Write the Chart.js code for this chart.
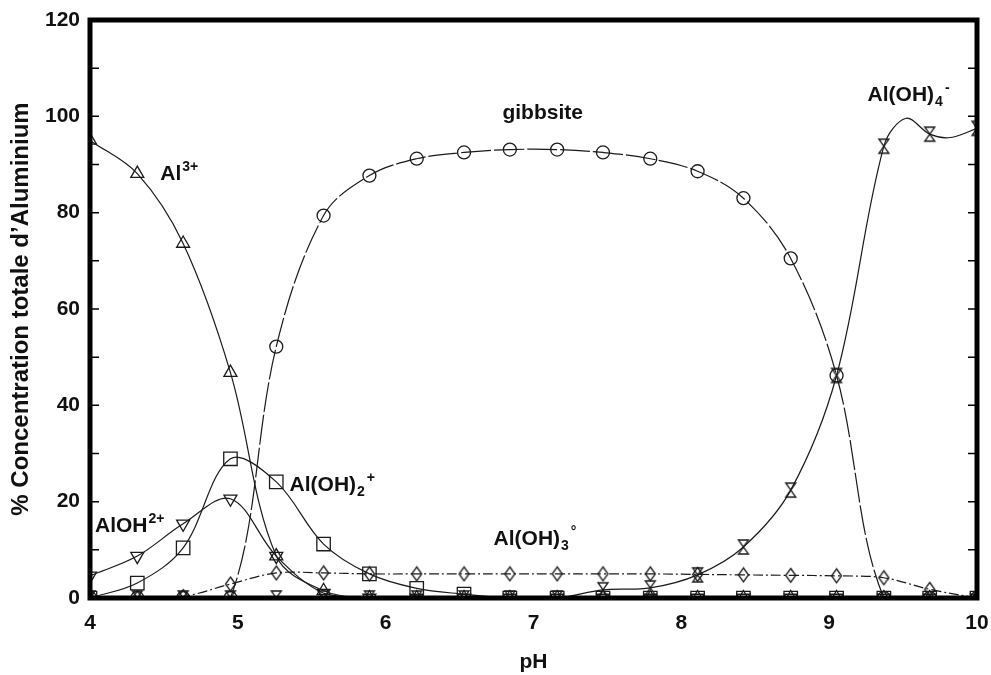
<!DOCTYPE html>
<html>
<head>
<meta charset="utf-8">
<script src="https://cdn.jsdelivr.net/npm/chart.js@4.4.1/dist/chart.umd.min.js"></script>
<style>
  html, body { margin: 0; padding: 0; background: #fff; }
  #wrap { width: 991px; height: 675px; }
</style>
</head>
<body>
<div id="wrap"><canvas id="spec" width="991" height="675"></canvas></div>
<script>
/* ---------------------------------
   DATA
--------------------------------- */
const pH = [4.00, 4.32, 4.63, 4.95, 5.26, 5.58, 5.89, 6.21, 6.53, 6.84,
            7.16, 7.47, 7.79, 8.11, 8.42, 8.74, 9.05, 9.37, 9.68, 10.00];

const al3 = [95.0, 88.1, 73.6, 46.8, 8.7, 1.5, 0, 0, 0, 0,
             0, 0, 0, 0, 0, 0, 0, 0, 0, 0];
const alOH2 = [4.6, 8.7, 15.4, 20.6, 8.7, 1.0, 0, 0, 0, 0,
               0, 0, 0, 0, 0, 0, 0, 0, 0, 0];
const alOH2p = [0, 3.1, 10.4, 28.9, 24.1, 11.2, 5.0, 2.0, 0.8, 0,
                0, 0, 0, 0, 0, 0, 0, 0, 0, 0];
const gibbsite = [0, 0, 0, 0, 52.2, 79.4, 87.7, 91.2, 92.5, 93.1,
                  93.1, 92.5, 91.2, 88.6, 83.0, 70.5, 46.2, 0, 0, 0];
const alOH3 = [0, 0, 0.3, 2.9, 5.2, 5.2, 5.0, 5.0, 5.0, 5.0,
               5.0, 5.0, 5.0, 4.9, 4.8, 4.7, 4.6, 4.2, 1.8, 0];
const alOH4 = [0, 0, 0, 0, 0, 0, 0, 0, 0, 0,
               0, 1.7, 2.1, 4.8, 10.6, 22.4, 46.2, 93.8, 96.3, 97.5];
// curve points between markers (overshoot near pH 9.5)
const alOH4CurvePH = [9.52, 9.82];
const alOH4CurveVal = [99.6, 95.6];

const xTicks = [4, 5, 6, 7, 8, 9, 10];
const yTicks = [0, 20, 40, 60, 80, 100, 120];
const yMinorTicks = [10, 20, 30, 40, 50, 60, 70, 80, 90, 100, 110];

// species labels: [pH, % baseline, parts]
const speciesLabels = [
  [4.475, 86.8, [["Al", ""], ["3+", "sup"]]],
  [6.79, 99.5, [["gibbsite", ""]]],
  [9.26, 103.2, [["Al(OH)", ""], ["4", "sub"], ["-", "sup"]]],
  [5.35, 22.2, [["Al(OH)", ""], ["2", "sub"], ["+", "sup"]]],
  [4.034, 13.7, [["AlOH", ""], ["2+", "sup"]]],
  [6.73, 11.0, [["Al(OH)", ""], ["3", "sub"], ["°", "sup"]]]
];

/* ---------------------------------
   MARKERS
--------------------------------- */
const INK = "#1a1a1a";
const FONT = "\"Liberation Sans\", Arial, Helvetica, sans-serif";

function makeMarker(w, h, pts) {
  const c = document.createElement("canvas");
  c.width = w;
  c.height = h;
  const g = c.getContext("2d");
  g.strokeStyle = INK;
  g.lineWidth = 1.3;
  g.beginPath();
  pts.forEach((p, i) => (i ? g.lineTo(p[0], p[1]) : g.moveTo(p[0], p[1])));
  g.closePath();
  g.stroke();
  return c;
}

const diamond = makeMarker(13, 17, [[6.5, 1.5], [11.5, 8.5], [6.5, 15.5], [1.5, 8.5]]);
const hourglass = makeMarker(14, 18, [[2, 2], [12, 2], [2, 16], [12, 16]]);

function series(values) {
  return values.map((v, i) => ({ x: pH[i], y: v }));
}

function withCurve(values, extraX, extraY) {
  const pts = series(values);
  extraX.forEach((x, i) => pts.push({ x, y: extraY[i], curveOnly: true }));
  return pts.sort((a, b) => a.x - b.x);
}

function makeDataset(label, data, style, radius, extra) {
  return Object.assign({
    label,
    data,
    borderColor: INK,
    borderWidth: 1.2,
    pointStyle: style,
    pointRadius: (c) => (c.raw && c.raw.curveOnly ? 0 : radius),
    pointBorderColor: INK,
    pointBorderWidth: 1.3,
    pointBackgroundColor: "rgba(0,0,0,0)",
    pointHoverRadius: radius,
    fill: false,
    tension: 0.35
  }, extra || {});
}

/* ---------------------------------
   PLUGINS
--------------------------------- */
function drawFormula(ctx, parts, x, y) {
  ctx.textBaseline = "alphabetic";
  ctx.textAlign = "left";
  ctx.fillStyle = "#111";
  parts.forEach(([txt, kind]) => {
    const size = kind ? 14 : 21;
    ctx.font = `bold ${size}px ${FONT}`;
    const dy = kind === "sup" ? -9 : kind === "sub" ? 5 : 0;
    ctx.fillText(txt, x, y + dy);
    x += ctx.measureText(txt).width + (kind ? 2 : 1);
  });
}

const framePlugin = {
  id: "frame",
  afterDatasetsDraw(chart) {
    const { ctx, chartArea: a, scales } = chart;
    ctx.save();
    ctx.strokeStyle = "#000";
    ctx.lineWidth = 1.5;
    yMinorTicks.forEach((v) => {
      const y = scales.y.getPixelForValue(v);
      ctx.beginPath();
      ctx.moveTo(a.left, y);
      ctx.lineTo(a.left + 9, y);
      ctx.moveTo(a.right, y);
      ctx.lineTo(a.right - 9, y);
      ctx.stroke();
    });
    ctx.lineWidth = 5;
    ctx.strokeRect(a.left, a.top, a.right - a.left, a.bottom - a.top);
    speciesLabels.forEach(([x, v, parts]) => {
      drawFormula(ctx, parts, scales.x.getPixelForValue(x), scales.y.getPixelForValue(v));
    });
    ctx.restore();
  }
};

/* ---------------------------------
   CHART
--------------------------------- */
const datasets = [
  makeDataset("Al3+", series(al3), "triangle", 7.5),
  makeDataset("AlOH2+", series(alOH2), "triangle", 7.5, { pointRotation: 180 }),
  makeDataset("Al(OH)2+", series(alOH2p), "rect", 9.5),
  makeDataset("gibbsite", series(gibbsite), "circle", 6.5, { borderDash: [30, 3] }),
  makeDataset("Al(OH)3°", series(alOH3), diamond, 8, { borderDash: [10, 3, 2, 3] }),
  makeDataset("Al(OH)4-", withCurve(alOH4, alOH4CurvePH, alOH4CurveVal), hourglass, 8)
];

new Chart(document.getElementById("spec"), {
  type: "line",
  data: { datasets },
  plugins: [framePlugin],
  options: {
    responsive: false,
    animation: false,
    devicePixelRatio: 1,
    layout: { padding: { left: 0, right: 14, top: 20, bottom: 0 } },
    plugins: {
      legend: { display: false },
      tooltip: { enabled: false }
    },
    scales: {
      x: {
        type: "linear",
        min: 4,
        max: 10,
        afterBuildTicks: (s) => { s.ticks = xTicks.map((v) => ({ value: v })); },
        afterFit: (s) => {
          s.height = 77;
          s.paddingLeft = 0;
          s.paddingRight = 0;
        },
        grid: { display: false, drawTicks: false },
        border: { display: false },
        ticks: {
          padding: 13,
          color: "#111",
          font: { family: FONT, size: 21, weight: "bold" }
        },
        title: {
          display: true,
          text: "pH",
          color: "#111",
          padding: { top: 0, bottom: 0 },
          font: { family: FONT, size: 21, weight: "bold" }
        }
      },
      y: {
        min: 0,
        max: 120,
        afterBuildTicks: (s) => { s.ticks = yTicks.map((v) => ({ value: v })); },
        afterFit: (s) => {
          s.width = 90;
          s.paddingTop = 0;
          s.paddingBottom = 0;
        },
        grid: { display: false, drawTicks: false },
        border: { display: false },
        ticks: {
          padding: 10,
          color: "#111",
          font: { family: FONT, size: 21, weight: "bold" }
        },
        title: {
          display: true,
          text: "% Concentration totale d’Aluminium",
          color: "#111",
          padding: { top: 7, bottom: 0 },
          font: { family: FONT, size: 24, weight: "bold" }
        }
      }
    }
  }
});
</script>
</body>
</html>
